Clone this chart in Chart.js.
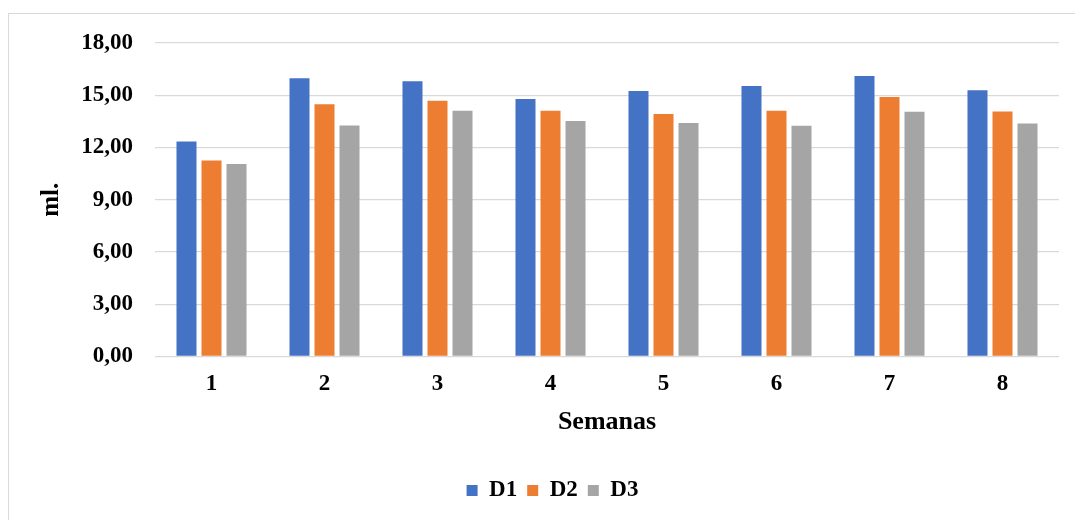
<!DOCTYPE html>
<html>
<head>
<meta charset="utf-8">
<script src="https://cdn.jsdelivr.net/npm/chart.js@4/dist/chart.umd.min.js"></script>
<style>
  html, body { margin: 0; padding: 0; background: #ffffff; }
  #wrap { width: 1075px; height: 520px; position: relative; }
</style>
</head>
<body>
<div id="wrap"><canvas id="chart" width="1075" height="520"></canvas></div>
<script>
// Weekly measurements (ml.) for the three treatments
const weeks = ['1', '2', '3', '4', '5', '6', '7', '8'];
const d1 = [12.35, 15.97, 15.80, 14.78, 15.24, 15.53, 16.10, 15.28];
const d2 = [11.26, 14.49, 14.69, 14.11, 13.92, 14.11, 14.90, 14.07];
const d3 = [11.05, 13.27, 14.11, 13.52, 13.40, 13.25, 14.05, 13.38];
const seriesNames = ['D1', 'D2', 'D3'];
const seriesColors = ['#4472C4', '#ED7D31', '#A5A5A5'];

const serif = "'Liberation Serif', 'Times New Roman', serif";

// thin grey outline around the whole chart
const framePlugin = {
  id: 'frame',
  beforeDraw(chart) {
    const ctx = chart.ctx;
    ctx.save();
    ctx.strokeStyle = '#d9d9d9';
    ctx.lineWidth = 1;
    ctx.strokeRect(8.5, 13.5, chart.width + 10, chart.height + 10);
    ctx.restore();
  }
};

// nudge the legend a little to the right of the canvas centre
const legendShift = {
  id: 'legendShift',
  afterLayout(chart) {
    if (chart.legend) {
      chart.legend.left += 23;
      chart.legend.right += 23;
    }
  }
};

new Chart(document.getElementById('chart'), {
  type: 'bar',
  data: {
    labels: weeks,
    datasets: [d1, d2, d3].map((vals, i) => ({
      label: seriesNames[i],
      data: vals,
      backgroundColor: seriesColors[i],
      borderWidth: 0,
      categoryPercentage: 0.664,
      barPercentage: 0.8
    }))
  },
  options: {
    responsive: false,
    animation: false,
    layout: { padding: { top: 43, right: 16, bottom: 8, left: 0 } },
    plugins: {
      legend: {
        position: 'bottom',
        labels: {
          boxWidth: 11,
          boxHeight: 11,
          padding: 10,
          color: '#000',
          font: { family: serif, size: 23, weight: 'bold' }
        }
      },
      tooltip: { enabled: false }
    },
    scales: {
      x: {
        afterFit(scale) { scale.height = 112.5; },
        grid: { display: false, drawTicks: false },
        border: { display: false },
        ticks: {
          padding: 14,
          color: '#000',
          font: { family: serif, size: 23, weight: 'bold' }
        },
        title: {
          display: true,
          text: 'Semanas',
          color: '#000',
          padding: { top: 9, bottom: 31 },
          font: { family: serif, size: 26, weight: 'bold' }
        }
      },
      y: {
        min: 0,
        max: 18,
        afterFit(scale) { scale.width = 155; },
        grid: { color: '#d9d9d9', lineWidth: 1.3, drawTicks: false },
        border: { display: false },
        ticks: {
          stepSize: 3,
          padding: 22,
          color: '#000',
          font: { family: serif, size: 23, weight: 'bold' },
          callback: v => Number(v).toFixed(2).replace('.', ',')
        },
        title: {
          display: true,
          text: 'ml.',
          color: '#000',
          padding: { top: 37, bottom: 0 },
          font: { family: serif, size: 25, weight: 'bold' }
        }
      }
    }
  },
  plugins: [framePlugin, legendShift]
});
</script>
</body>
</html>
